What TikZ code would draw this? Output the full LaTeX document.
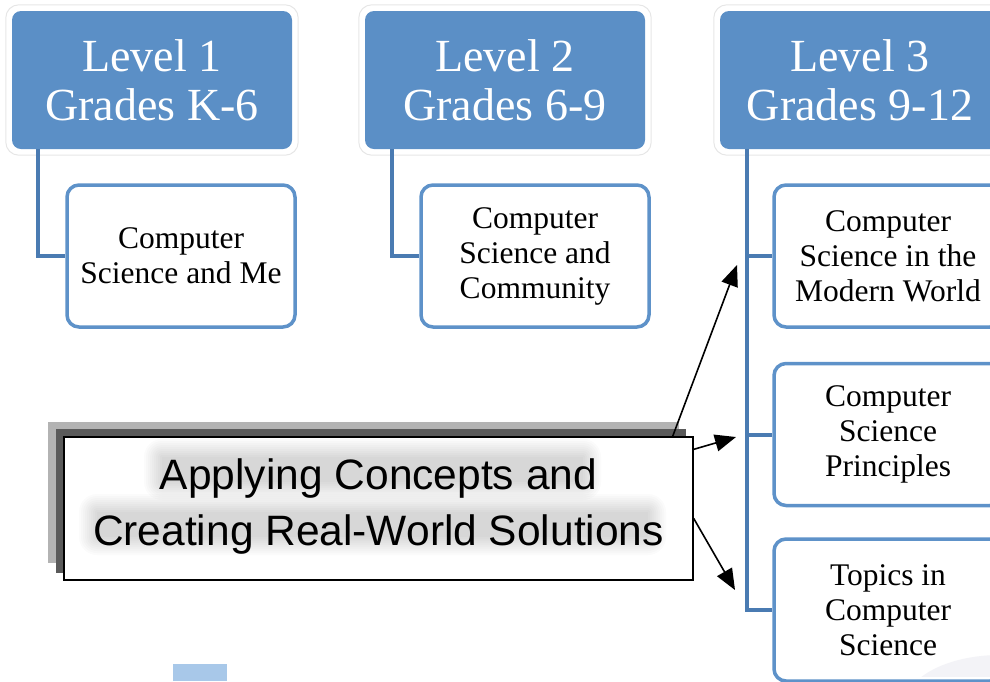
\documentclass[tikz,border=0pt]{standalone}
\usepackage{fontspec}
\setmainfont{Liberation Serif}
\newfontfamily\calloutfont{Liberation Sans}
\usetikzlibrary{arrows.meta,calc}
\definecolor{levelblue}{HTML}{5B8FC6}
\definecolor{linkblue}{HTML}{4A7BB2}
\definecolor{frameblue}{HTML}{5E92C9}
\definecolor{paleblue}{HTML}{A8C8E9}
\definecolor{haloline}{HTML}{E6E6E6}
\definecolor{shadowlight}{HTML}{B3B3B3}
\definecolor{shadowdark}{HTML}{5A5A5A}
\tikzset{
  levelbox/.style={fill=levelblue, rounded corners=9pt, minimum width=280pt,
    minimum height=138pt, text=white, align=center, inner sep=0pt,
    font=\fontsize{46}{49}\selectfont},
  halo/.style={draw=haloline, line width=1pt, rounded corners=13pt},
  topicbox/.style={draw=frameblue, line width=3.5pt, fill=white,
    rounded corners=12pt, minimum width=228pt, minimum height=142pt,
    align=center, inner sep=0pt, font=\fontsize{31.5}{35}\selectfont},
  link/.style={draw=linkblue, line width=4pt},
  calloutbox/.style={draw=black, line width=1.3pt, fill=white,
    minimum width=629pt, minimum height=143pt, inner sep=0pt},
  callouttext/.style={align=center, font=\calloutfont\fontsize{42.5}{56}\selectfont},
  haze/.style={fill=black, opacity=0.017},
  pointer/.style={-{Triangle[length=21pt,width=17pt]}, line width=1.6pt}
}
\begin{document}
\begin{tikzpicture}[x=1pt,y=-1pt]
  \useasboundingbox (0,0) rectangle (990,681);
  \begin{scope}
    \clip (0,0) rectangle (990,681);

    % level headers
    \node[levelbox] (L1) at (152,80) {Level 1\\Grades K-6};
    \node[levelbox] (L2) at (505,80) {Level 2\\Grades 6-9};
    \node[levelbox] (L3) at (860,80) {Level 3\\Grades 9-12};
    \foreach \n in {L1,L2,L3}
      \draw[halo] ([shift={(-6pt,6pt)}]\n.north west) rectangle ([shift={(6pt,-6pt)}]\n.south east);

    % course boxes
    \node[topicbox] (T1) at (181,256) {Computer\\Science and Me};
    \node[topicbox] (T2) at (535,256) {Computer\\Science and\\Community};
    \node[topicbox] (T3a) at (888,256) {Computer\\Science in the\\Modern World};
    \node[topicbox] (T3b) at (888,434.5) {Computer\\Science\\Principles};
    \node[topicbox] (T3c) at (888,610) {Topics in\\Computer\\Science};

    % faint shape in the lower corner of the last box
    \begin{scope}
      \clip (776,543) rectangle (990,676);
      \fill[blue!20!gray!8] (1000,705) ellipse [x radius=95pt, y radius=50pt];
    \end{scope}

    % tree connectors
    \coordinate (c1) at ([xshift=-114pt]L1.south);
    \coordinate (c2) at ([xshift=-113pt]L2.south);
    \coordinate (c3) at ([xshift=-113pt]L3.south);
    \draw[link] (c1) |- (T1.west);
    \draw[link] (c2) |- (T2.west);
    \draw[link] (c3) |- (T3a.west);
    \draw[link] (c3) |- (T3b.west);
    \draw[link] (c3) |- (T3c.west);

    % small pale block at the bottom
    \fill[paleblue] (173,664) rectangle (227,681);

    % callout with stepped shadow
    \fill[shadowlight] (48,422) rectangle (679,563);
    \fill[shadowdark] (56,429) rectangle (686,573);
    \node[calloutbox] (callout) at (378.5,508.5) {};

    % soft grey haze up and to the left of the two text lines
    \begin{scope}
      \clip ([shift={(1pt,-1pt)}]callout.north west) rectangle ([shift={(-1pt,1pt)}]callout.south east);
      \foreach \g in {0,2,...,18} {
        \fill[haze, rounded corners=\g pt] (162-\g,457-\g) rectangle (583+\g,482+\g);
        \fill[haze, rounded corners=\g pt] (97-\g,512-\g) rectangle (648+\g,537+\g);
      }
    \end{scope}
    \node[callouttext] (calltext) at ([yshift=2pt]callout.center)
      {Applying Concepts and\\Creating Real-World Solutions};

    % pointers from the callout to the grade 9-12 courses
    \coordinate (p1) at (737,265);
    \coordinate (p2) at (736,437);
    \coordinate (p3) at (735,590);
    \draw[pointer] ([xshift=-21pt]callout.north east) -- (p1);
    \draw[pointer] ([yshift=-13pt]callout.north east) -- (p2);
    \draw[pointer] ([yshift=-82pt]callout.north east) -- (p3);
  \end{scope}
\end{tikzpicture}
\end{document}
